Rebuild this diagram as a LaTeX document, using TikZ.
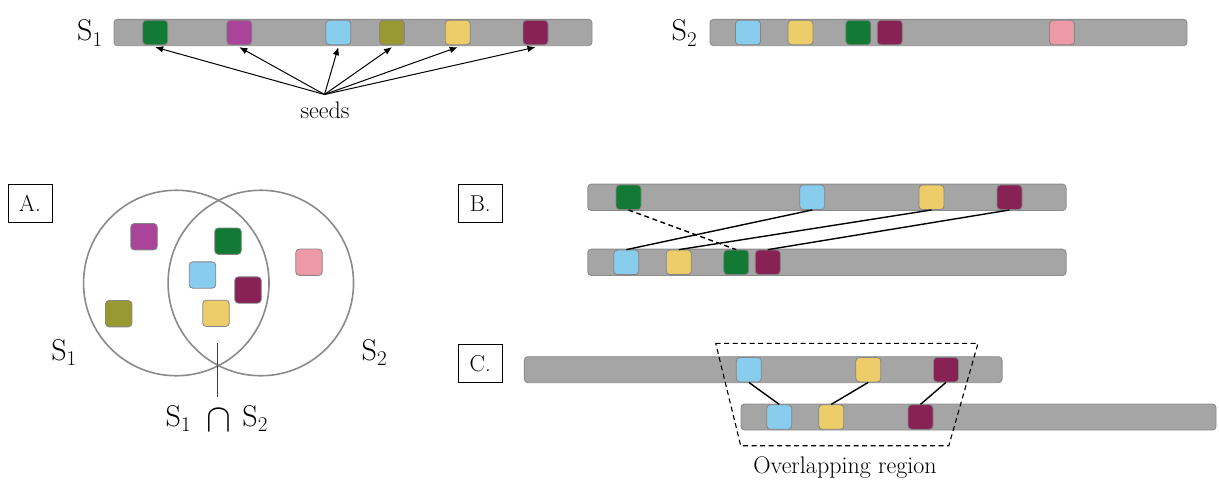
\RequirePackage{fix-cm}
\documentclass[tikz,border=0pt]{standalone}
\usepackage{fontspec}
\usepackage{graphicx}
\usetikzlibrary{arrows.meta}
\definecolor{bargray}{HTML}{A5A5A5}
\definecolor{barline}{HTML}{8C8C8C}
\definecolor{sqline}{HTML}{858585}
\definecolor{venngray}{HTML}{8A8A8A}
\definecolor{cgreen}{HTML}{127A35}
\definecolor{cmag}{HTML}{AA4499}
\definecolor{ccyan}{HTML}{88CCEE}
\definecolor{colive}{HTML}{999933}
\definecolor{cyell}{HTML}{EDCD6A}
\definecolor{cmaroon}{HTML}{882255}
\definecolor{cpink}{HTML}{EE99A8}
\newcommand\Sname[1]{{\fontsize{30}{30}\selectfont S\raisebox{-5.5pt}{\fontsize{21}{21}\selectfont #1}}}
\newcommand\bigcapsym{\raisebox{-5.7pt}{\scalebox{3.72}[3.96]{\fontsize{10}{10}\selectfont$\cap$}}}
\begin{document}
\begin{tikzpicture}[x=1pt,y=-1pt,
  bar/.style={draw=barline, fill=bargray, rounded corners=3.5pt, line width=0.9pt, minimum height=26.4pt, inner sep=0pt},
  sq/.style={draw=sqline, rounded corners=3.5pt, minimum width=25pt, minimum height=24.5pt, inner sep=0pt, line width=0.8pt},
  sqv/.style={sq, minimum width=26.5pt, minimum height=26.3pt},
  lbl/.style={font=\fontsize{24}{28}\selectfont, inner sep=0pt},
  slbl/.style={inner sep=0pt, anchor=base west},
  panel/.style={draw, line width=0.9pt, fill=white, minimum width=44pt, minimum height=38.7pt, inner sep=0pt, font=\fontsize{23}{25}\selectfont},
  venn/.style={circle, draw=venngray, line width=1.6pt, minimum size=185.5pt, inner sep=0pt},
  link/.style={line width=1.4pt},
  seedarrow/.style={-{Latex[length=8pt,width=6.5pt]}, line width=1pt},
  trap/.style={line width=1.1pt, dash pattern=on 5pt off 3.5pt}
]
\useasboundingbox (0,0) rectangle (1219,480);

% ---- top: S1 ----
\node[slbl] (s1lab) at (77,40.7) {\Sname{1}};
\node[bar, minimum width=478pt] (s1bar) at (353,32.5) {};
\node[sq, fill=cgreen] (s1g) at (155.2,32.5) {};
\node[sq, fill=cmag] (s1m) at (239.3,32.5) {};
\node[sq, fill=ccyan] (s1c) at (338.3,32.5) {};
\node[sq, fill=colive] (s1o) at (392,32.5) {};
\node[sq, fill=cyell] (s1y) at (457.7,32.5) {};
\node[sq, fill=cmaroon] (s1r) at (535.5,32.5) {};
\coordinate (seedpt) at (324.5,94.5);
\node[lbl, anchor=base] (seeds) at (325,118.3) {seeds};
\foreach \t in {s1g,s1m,s1c,s1o,s1y,s1r}
  \draw[seedarrow] (seedpt) -- ([yshift=-2pt]\t.south);

% ---- top: S2 ----
\node[slbl] (s2lab) at (671.5,40.7) {\Sname{2}};
\node[bar, minimum width=477pt] (s2bar) at (948.5,32.5) {};
\node[sq, fill=ccyan] (s2c) at (748,32.5) {};
\node[sq, fill=cyell] (s2y) at (800.5,32.5) {};
\node[sq, fill=cgreen] (s2g) at (858.3,32.5) {};
\node[sq, fill=cmaroon] (s2r) at (889.8,32.5) {};
\node[sq, fill=cpink] (s2p) at (1062,32.5) {};

% ---- A ----
\node[panel] (pa) at (30,203.4) {A.};
\node[venn] (c1) at (176.3,283) {};
\node[venn] (c2) at (260.8,283) {};
\node[sqv, fill=cmag] (vm) at (144,236.7) {};
\node[sqv, fill=colive] (vo) at (118.7,313.7) {};
\node[sqv, fill=cgreen] (vg) at (228,241.2) {};
\node[sqv, fill=ccyan] (vc) at (202.5,275) {};
\node[sqv, fill=cmaroon] (vr) at (248,290) {};
\node[sqv, fill=cyell] (vy) at (216,313.3) {};
\node[sqv, fill=cpink] (vp) at (309,262.2) {};
\node[slbl] (vs1) at (51.2,360) {\Sname{1}};
\node[slbl] (vs2) at (361.5,360) {\Sname{2}};
\coordinate (capt) at (217.7,343.3);
\coordinate (capb) at (217.7,396.7);
\draw[line width=1.3pt, black!75] (capt) -- (capb);
\node[slbl] (inter) at (165.5,426)
  {\Sname{1}\hspace{16pt}\bigcapsym\hspace{11pt}\Sname{2}};

% ---- B ----
\node[panel] (pb) at (480.3,203.4) {B.};
\node[bar, minimum width=478.3pt] (btbar) at (826.9,197.3) {};
\node[bar, minimum width=478.3pt] (bbbar) at (826.9,262.3) {};
\node[sq, fill=cgreen] (btg) at (628.5,197.3) {};
\node[sq, fill=ccyan] (btc) at (812.2,197.3) {};
\node[sq, fill=cyell] (bty) at (931.5,197.3) {};
\node[sq, fill=cmaroon] (btr) at (1009.5,197.3) {};
\node[sq, fill=ccyan] (bbc) at (626.3,262.3) {};
\node[sq, fill=cyell] (bby) at (678.8,262.3) {};
\node[sq, fill=cgreen] (bbg) at (736.2,262.3) {};
\node[sq, fill=cmaroon] (bbr) at (767.8,262.3) {};
\draw[link, dash pattern=on 5pt off 3.5pt] (btg.south) -- (bbg.north);
\draw[link] (btc.south) -- (bbc.north);
\draw[link] (bty.south) -- (bby.north);
\draw[link] (btr.south) -- (bbr.north);

% ---- C ----
\node[panel] (pc) at (480.3,363.4) {C.};
\node[bar, minimum width=477.7pt, minimum height=26pt] (ctbar) at (763.2,369.7) {};
\node[bar, minimum width=475pt, minimum height=26pt] (cbbar) at (978.5,417) {};
\node[sq, fill=ccyan] (ctc) at (748.8,369.7) {};
\node[sq, fill=cyell] (cty) at (868.3,369.7) {};
\node[sq, fill=cmaroon] (ctr) at (946,369.7) {};
\node[sq, fill=ccyan] (cbc) at (779.2,417) {};
\node[sq, fill=cyell] (cby) at (831.3,417) {};
\node[sq, fill=cmaroon] (cbr) at (920.5,417) {};
\draw[link] (ctc.south) -- (cbc.north);
\draw[link] (cty.south) -- (cby.north);
\draw[link] (ctr.south) -- (cbr.north);
\coordinate (tl) at (715.7,343.3);
\coordinate (tr) at (978,343.3);
\coordinate (br) at (948.8,445.7);
\coordinate (bl) at (740.7,445.7);
\draw[trap] (tl) -- (tr) -- (br) -- (bl) -- cycle;
\node[lbl, anchor=base] (ovl) at (845,473.3) {Overlapping region};
\end{tikzpicture}
\end{document}
